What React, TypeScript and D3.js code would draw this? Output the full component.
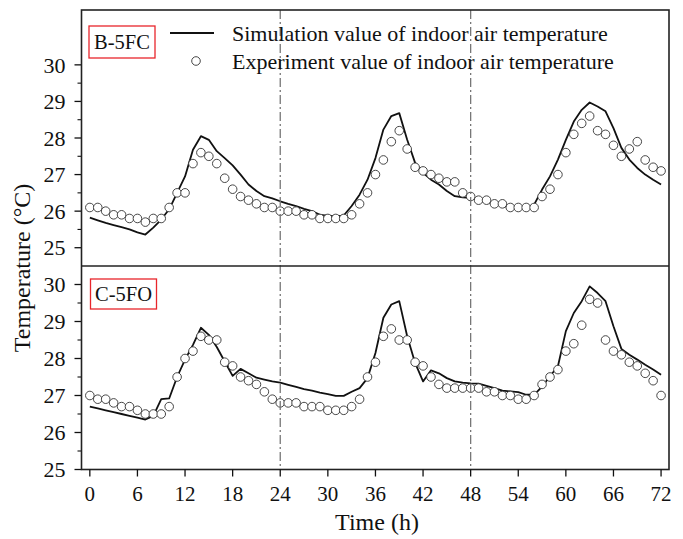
import React from "react";
import * as d3 from "d3";

const hours = d3.range(0, 73);

// Top panel: B-5FC
const simTop = [
  25.82, 25.75, 25.68, 25.62, 25.56, 25.5, 25.42, 25.36, 25.55, 25.77,
  26.05, 26.5, 26.95, 27.68, 28.05, 27.95, 27.64, 27.45, 27.25, 27.0,
  26.73, 26.55, 26.41, 26.35, 26.27, 26.2, 26.14, 26.06, 26.0, 25.9,
  25.88, 25.86, 25.88, 26.14, 26.45, 26.86, 27.45, 28.23, 28.6, 28.68,
  27.95, 27.32, 27.05, 26.86, 26.73, 26.55, 26.41, 26.38, 26.36, 26.3,
  26.25, 26.2, 26.15, 26.1, 26.1, 26.1, 26.18, 26.59, 26.95, 27.41,
  27.95, 28.45, 28.77, 28.97, 28.86, 28.73, 28.27, 27.73, 27.41, 27.18,
  27.0, 26.86, 26.73,
];
const expTop = [
  26.1, 26.1, 26.0, 25.9, 25.9, 25.8, 25.8, 25.7, 25.8, 25.8,
  26.1, 26.5, 26.5, 27.3, 27.6, 27.5, 27.3, 26.9, 26.6, 26.4,
  26.3, 26.2, 26.1, 26.1, 26.0, 26.0, 26.0, 25.9, 25.9, 25.8,
  25.8, 25.8, 25.8, 25.9, 26.2, 26.5, 27.0, 27.4, 27.9, 28.2,
  27.7, 27.2, 27.1, 27.0, 26.9, 26.8, 26.8, 26.5, 26.4, 26.3,
  26.3, 26.2, 26.2, 26.1, 26.1, 26.1, 26.1, 26.4, 26.6, 27.0,
  27.6, 28.1, 28.4, 28.6, 28.2, 28.1, 27.8, 27.5, 27.7, 27.9,
  27.4, 27.2, 27.1,
];

// Bottom panel: C-5FO
const simBot = [
  26.7, 26.65, 26.6, 26.55, 26.5, 26.45, 26.4, 26.35, 26.45, 26.9,
  26.92, 27.5, 27.97, 28.37, 28.83, 28.64, 28.31, 27.92, 27.53, 27.72,
  27.6, 27.48, 27.43, 27.38, 27.35, 27.29, 27.23, 27.17, 27.13, 27.08,
  27.04, 26.99, 26.99, 27.1, 27.2, 27.47, 28.15, 29.1, 29.46, 29.55,
  28.6, 27.88, 27.38, 27.68, 27.6, 27.47, 27.38, 27.35, 27.33, 27.32,
  27.26, 27.2, 27.13, 27.11, 27.09, 27.02, 27.02, 27.24, 27.52, 27.79,
  28.74, 29.23, 29.55, 29.95, 29.77, 29.55, 28.87, 28.26, 28.1, 27.97,
  27.83, 27.7, 27.56,
];
const expBot = [
  27.0, 26.9, 26.9, 26.8, 26.7, 26.7, 26.6, 26.5, 26.5, 26.5,
  26.7, 27.5, 28.0, 28.2, 28.6, 28.5, 28.5, 27.9, 27.8, 27.5,
  27.4, 27.3, 27.1, 26.9, 26.8, 26.8, 26.8, 26.7, 26.7, 26.7,
  26.6, 26.6, 26.6, 26.7, 26.9, 27.5, 27.9, 28.6, 28.8, 28.5,
  28.5, 27.9, 27.8, 27.5, 27.3, 27.2, 27.2, 27.2, 27.2, 27.2,
  27.1, 27.1, 27.0, 27.0, 26.9, 26.9, 27.0, 27.3, 27.5, 27.7,
  28.2, 28.4, 28.9, 29.6, 29.5, 28.5, 28.2, 28.1, 27.9, 27.8,
  27.6, 27.4, 27.0,
];

const xTicks = [0, 6, 12, 18, 24, 30, 36, 42, 48, 54, 60, 66, 72];
const yTicks = [25, 26, 27, 28, 29, 30];
const dayBreaks = [24, 48];
const panelLabels = ["B-5FC", "C-5FO"];
const legendLabels = [
  "Simulation value of indoor air temperature",
  "Experiment value of indoor air temperature",
];

const FONT = "'Liberation Serif', 'Times New Roman', serif";

export default function App() {
  const left = 81.5;
  const right = 669;
  const top = 10;
  const mid = 266;
  const bottom = 469.5;

  const x = d3.scaleLinear().domain([-1.05, 73]).range([left, right]);
  const yTop = d3.scaleLinear().domain([24.5, 31.5]).range([mid, top]);
  const yBot = d3.scaleLinear().domain([25, 30.5]).range([bottom, mid]);

  const panels = [
    { sim: simTop, exp: expTop, y: yTop, label: panelLabels[0], minors: d3.range(25.5, 30.5, 1), box: [89, 26, 66, 32] },
    { sim: simBot, exp: expBot, y: yBot, label: panelLabels[1], minors: d3.range(25.5, 30.5, 1), box: [90.5, 279, 66, 30] },
  ];

  return (
    <svg width={683} height={539} style={{ position: "absolute", left: 0, top: 0, background: "#fff" }} fontFamily={FONT}>
      {panels.map((p, pi) => {
        const line = d3
          .line<number>()
          .x((_, i) => x(hours[i]))
          .y((d) => p.y(d));
        return (
          <g key={pi}>
            <path d={line(p.sim) || ""} fill="none" stroke="#111" strokeWidth={1.8} strokeLinejoin="round" />
            {p.exp.map((v, i) => (
              <circle key={i} cx={x(hours[i])} cy={p.y(v)} r={4.3} fill="#fff" stroke="#333" strokeWidth={0.9} />
            ))}
            {yTicks.map((t) => (
              <g key={t}>
                <line x1={left - 7} x2={left} y1={p.y(t)} y2={p.y(t)} stroke="#111" strokeWidth={1.3} />
                <text x={left - 16} y={p.y(t)} dy="0.35em" textAnchor="end" fontSize={22} fill="#111">
                  {t}
                </text>
              </g>
            ))}
            {p.minors.map((t) => (
              <line key={t} x1={left - 4} x2={left} y1={p.y(t)} y2={p.y(t)} stroke="#111" strokeWidth={1.1} />
            ))}
            <rect x={p.box[0]} y={p.box[1]} width={p.box[2]} height={p.box[3]} fill="none" stroke="#e8262b" strokeWidth={1.3} />
            <text x={p.box[0] + p.box[2] / 2} y={p.box[1] + p.box[3] / 2} dy="0.35em" textAnchor="middle" fontSize={20.5} fill="#111">
              {p.label}
            </text>
          </g>
        );
      })}

      {dayBreaks.map((d) => (
        <line key={d} x1={x(d)} x2={x(d)} y1={top} y2={bottom} stroke="#777" strokeWidth={1.3} strokeDasharray="9,3,2,3" />
      ))}

      <rect x={left} y={top} width={right - left} height={bottom - top} fill="none" stroke="#222" strokeWidth={1.6} />
      <line x1={left} x2={right} y1={mid} y2={mid} stroke="#222" strokeWidth={1.6} />

      {xTicks.map((t) => (
        <g key={t}>
          <line x1={x(t)} x2={x(t)} y1={bottom} y2={bottom + 7} stroke="#111" strokeWidth={1.3} />
          <text x={x(t)} y={501} textAnchor="middle" fontSize={21} fill="#111">
            {t}
          </text>
        </g>
      ))}

      <text x={377} y={530} textAnchor="middle" fontSize={24} fill="#111">
        Time (h)
      </text>
      <text
        transform={`translate(30, 268) rotate(-90)`}
        textAnchor="middle"
        fontSize={24}
        fill="#111"
      >
        Temperature (°C)
      </text>

      {/* legend */}
      <line x1={170} x2={214} y1={33} y2={33} stroke="#111" strokeWidth={1.8} />
      <text x={232} y={33} dy="0.35em" fontSize={22} fill="#111">
        {legendLabels[0]}
      </text>
      <circle cx={196} cy={61} r={4.3} fill="#fff" stroke="#333" strokeWidth={0.9} />
      <text x={232} y={61} dy="0.35em" fontSize={22} fill="#111">
        {legendLabels[1]}
      </text>
    </svg>
  );
}
